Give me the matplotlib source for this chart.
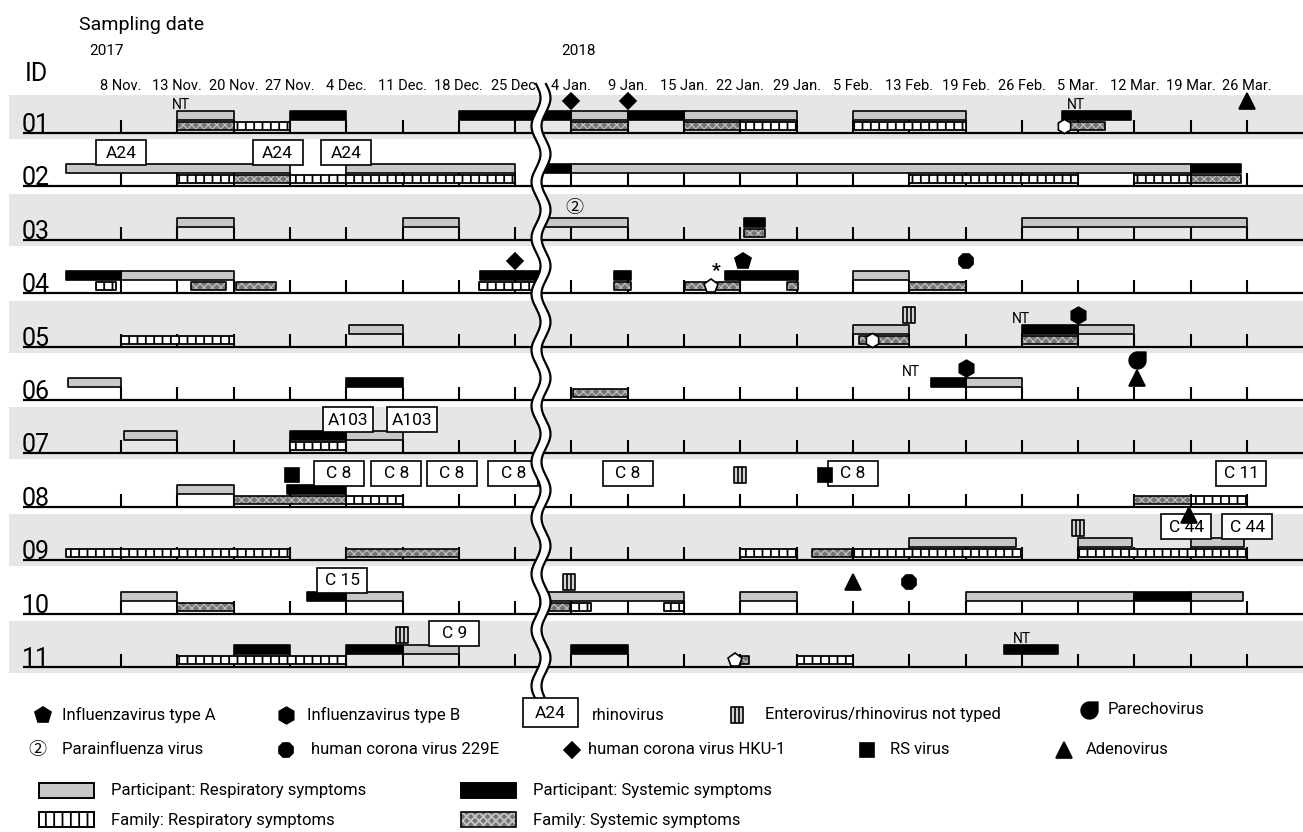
import numpy as np
import matplotlib
matplotlib.use("Agg")
import matplotlib.pyplot as plt
from matplotlib.patches import Rectangle
from matplotlib.path import Path

plt.rcParams['font.family'] = ['Roboto', 'Noto Sans CJK JP', 'DejaVu Sans']
plt.rcParams['hatch.linewidth'] = 1.3

# ==============================================================================
# DATA  (x = sampling-date index: 0 = 8 Nov. 2017 ... 20 = 26 Mar. 2018)
# ==============================================================================

sample_dates = ["8 Nov.", "13 Nov.", "20 Nov.", "27 Nov.", "4 Dec.", "11 Dec.", "18 Dec.",
                "25 Dec.", "4 Jan.", "9 Jan.", "15 Jan.", "22 Jan.", "29 Jan.", "5 Feb.",
                "13 Feb.", "19 Feb.", "26 Feb.", "5 Mar.", "12 Mar.", "19 Mar.", "26 Mar."]
ids = ["01", "02", "03", "04", "05", "06", "07", "08", "09", "10", "11"]

# symptom periods: (row, start, end)
part_resp = [
    (1, 1, 2), (1, 8, 9), (1, 10, 12), (1, 13, 15),
    (2, -0.98, 3), (2, 4, 7), (2, 8, 19),
    (3, 1, 2), (3, 5, 6), (3, 7.45, 9), (3, 16, 20),
    (4, 0, 2), (4, 13, 14),
    (5, 4.05, 5), (5, 13, 14), (5, 17, 18),
    (6, -0.95, 0), (6, 15, 16),
    (7, 0.05, 1), (7, 4, 5),
    (8, 1, 2),
    (9, 14, 15.9), (9, 17, 17.95), (9, 19, 19.95),
    (10, 0, 1), (10, 4, 5), (10, 7.45, 10), (10, 11, 12), (10, 15, 18), (10, 19, 19.93),
    (11, 5, 6),
]
part_sys = [
    (1, 3, 4), (1, 6, 8), (1, 9, 10), (1, 16.71, 17.94),
    (2, 7.45, 8), (2, 19, 19.9),
    (3, 11.07, 11.44),
    (4, -0.98, 0), (4, 6.38, 7.45), (4, 8.76, 9.05), (4, 10.73, 12.02),
    (5, 16, 17),
    (6, 4, 5), (6, 14.39, 15),
    (7, 3, 4),
    (8, 2.95, 4),
    (10, 3.31, 4), (10, 18, 19),
    (11, 2, 3), (11, 4, 5), (11, 8, 9), (11, 15.68, 16.64),
]
fam_resp = [
    (1, 2, 3), (1, 11, 12), (1, 13, 15),
    (2, 1, 2), (2, 3, 7), (2, 14, 17), (2, 18, 19),
    (4, -0.44, -0.09), (4, 6.36, 7.45),
    (5, 0, 2),
    (7, 3, 4),
    (8, 4, 5), (8, 19, 20),
    (9, -0.98, 3), (9, 11, 12), (9, 13, 16), (9, 17, 20),
    (10, 8, 8.35), (10, 9.65, 10),
    (11, 1, 4), (11, 12, 13),
]
fam_sys = [
    (1, 1, 2), (1, 8, 9), (1, 10, 11), (1, 16.71, 17.48),
    (2, 2, 3), (2, 19, 19.9),
    (3, 11.07, 11.43),
    (4, 1.24, 1.86), (4, 2.05, 2.75), (4, 8.76, 9.05), (4, 10.02, 11), (4, 11.83, 12.02), (4, 14, 15),
    (5, 13.1, 14), (5, 16, 17),
    (6, 8.03, 9),
    (8, 2, 4), (8, 18, 19),
    (9, 4, 6), (9, 12.27, 12.99),
    (10, 1, 2), (10, 7.45, 7.97),
    (11, 10.9, 11.16),
]

# virus detections: (row, date, virus, found in family member)
viruses = [
    (1, 8.0, 'hku', False), (1, 9.0, 'hku', False), (1, 20.0, 'adeno', False), (1, 16.75, 'fluB', True),
    (3, 8.05, 'para', False),
    (4, 7.0, 'hku', False), (4, 11.05, 'fluA', False), (4, 15.0, '229e', False), (4, 10.48, 'fluA', True),
    (5, 14.0, 'entero', False), (5, 17.0, 'fluB', False), (5, 13.34, 'fluB', True),
    (6, 15.0, 'fluB', False), (6, 18.05, 'parecho', False), (6, 18.05, 'adeno', False),
    (8, 3.03, 'rs', False), (8, 11.0, 'entero', False), (8, 12.5, 'rs', False),
    (9, 17.0, 'entero', False), (9, 18.97, 'adeno', False),
    (10, 7.96, 'entero', False), (10, 13.0, 'adeno', False), (10, 14.0, '229e', False),
    (11, 4.99, 'entero', False), (11, 10.9, 'fluA', True),
]

# rhinovirus types: (row, date, type)
rv_types = [
    (2, 0.0, 'A24'), (2, 2.78, 'A24'), (2, 4.0, 'A24'),
    (7, 4.04, 'A103'), (7, 5.17, 'A103'),
    (8, 3.87, 'C 8'), (8, 4.89, 'C 8'), (8, 5.88, 'C 8'), (8, 6.97, 'C 8'), (8, 9.0, 'C 8'),
    (8, 13.0, 'C 8'), (8, 19.9, 'C 11'),
    (9, 18.92, 'C 44'), (9, 20.0, 'C 44'),
    (10, 3.93, 'C 15'),
    (11, 5.92, 'C 9'),
]

nt_marks = [(1, 1.06), (1, 16.96), (5, 15.99), (6, 14.03), (11, 16.0)]
star_marks = [(4, 10.57)]

legend_viruses = [('fluA', 'Influenzavirus type A'), ('fluB', 'Influenzavirus type B'),
                  ('rhino', 'rhinovirus'), ('entero', 'Enterovirus/rhinovirus not typed'),
                  ('parecho', 'Parechovirus'), ('para', 'Parainfluenza virus'),
                  ('229e', 'human corona virus 229E'), ('hku', 'human corona virus HKU-1'),
                  ('rs', 'RS virus'), ('adeno', 'Adenovirus')]
legend_symptoms = ['Participant: Respiratory symptoms', 'Participant: Systemic symptoms',
                   'Family: Respiratory symptoms', 'Family: Systemic symptoms']

# ==============================================================================
# LAYOUT
# ==============================================================================

W, H = 1303, 832
X0, DX = 121.0, 56.3     # pixel of first sampling date, pixels per date step
Y0, DY = 133.0, 53.4     # baseline of row 01, row pitch
FS_FACE, FS_HATCH = '#767676', '#c4c4c4'


def px(p):
    return (np.asarray(p) - X0) / DX


def base(r):
    return Y0 + DY * (r - 1)


fig = plt.figure(figsize=(W / 100, H / 100), dpi=100)
ax = fig.add_axes([0, 0, 1, 1])
ax.set_xlim(px(0), px(W))
ax.set_ylim(H, 0)
ax.axis('off')

# custom markers
th = np.linspace(np.pi / 2, 2 * np.pi, 30)
pv = np.column_stack([np.cos(th), np.sin(th)]).tolist() + [[1, 1], [0, 1]]
parecho_path = Path(pv + [[0, 1]], [Path.MOVETO] + [Path.LINETO] * (len(pv) - 1) + [Path.CLOSEPOLY])
entero_path = Path([[-0.8, -1], [0.8, -1], [0.8, 1], [-0.8, 1], [-0.8, -1],
                    [-0.27, -1], [-0.27, 1], [0.27, -1], [0.27, 1]],
                   [Path.MOVETO, Path.LINETO, Path.LINETO, Path.LINETO, Path.CLOSEPOLY,
                    Path.MOVETO, Path.LINETO, Path.MOVETO, Path.LINETO])

marker_style = {
    'fluA': dict(marker='p', ms=12),
    'fluB': dict(marker='h', ms=12),
    '229e': dict(marker='8', ms=11),
    'hku': dict(marker='D', ms=8),
    'rs': dict(marker='s', ms=10),
    'adeno': dict(marker='^', ms=12),
    'parecho': dict(marker=parecho_path, ms=12),
    'entero': dict(marker=entero_path, ms=11, mfc='#d2d2d2'),
}


def draw_marker(x, y, v, open_=False, z=7):
    if v == 'para':
        ax.text(x, y, '\u2461', ha='center', va='center', fontsize=13, zorder=z)
        return
    st = dict(marker_style[v])
    mfc = st.pop('mfc', 'black')
    if open_:
        mfc = 'white'
        st['ms'] = st['ms'] * 0.85
    ax.plot([x], [y], color='black', mfc=mfc, mec='black', mew=1.2, ls='none', zorder=z, **st)


# background bands
for r in range(1, 12, 2):
    top = max(base(r) - 46, 95)
    ax.add_patch(Rectangle((px(9), top), px(W) - px(9), base(r) + 6 - top,
                           fc='#e6e6e6', ec='none', zorder=0))

# baselines, ticks, row ids
n = len(sample_dates)
for r in range(1, 12):
    b = base(r)
    ax.plot([px(23), px(W)], [b, b], color='black', lw=1.6, zorder=2, solid_capstyle='butt')
    ax.vlines(np.arange(n), b - 13, b, color='black', lw=1.5, zorder=2)
    ax.text(px(22), b - 1, ids[r - 1], fontsize=18, ha='left', va='baseline', zorder=3)


def draw_bars(items, top, h, **kw):
    out = []
    for r in range(1, 12):
        spans = [(s, e - s) for rr, s, e in items if rr == r]
        if spans:
            out.append(ax.broken_barh(spans, (base(r) - top, h), **kw))
    return out


draw_bars(part_resp, 22, 9, facecolor='#c8c8c8', edgecolor='black', linewidth=1.2, zorder=4)
draw_bars(part_sys, 22, 9, facecolor='black', edgecolor='black', linewidth=1.2, zorder=4)
draw_bars(fam_resp, 11, 8, facecolor='white', edgecolor='black', linewidth=1.3, hatch='||', zorder=4)
for c in draw_bars(fam_sys, 11, 8, facecolor=FS_FACE, edgecolor=FS_HATCH, linewidth=0,
                   hatch='xxxx', zorder=4):
    if hasattr(c, 'set_hatch_linewidth'):
        c.set_hatch_linewidth(0.8)
draw_bars(fam_sys, 11, 8, facecolor='none', edgecolor='black', linewidth=1.2, zorder=4.5)

# virus markers
bw = 50 / DX
for r, x, v, fam in viruses:
    b = base(r)
    same = [vv for rr, xx, vv, ff in viruses if rr == r and xx == x and not ff]
    in_box = any(rr == r and abs(xt - x) < bw / 2 for rr, xt, _ in rv_types)
    if fam:
        y = b - 7
    elif len(same) > 1:
        y = b - 40 + 18 * same.index(v)
    elif in_box:
        y = b - 45
    else:
        y = b - 32
    draw_marker(x, y, v, open_=fam)

# rhinovirus type boxes
for r, x, lab in rv_types:
    b = base(r)
    ax.add_patch(Rectangle((x - bw / 2, b - 46), bw, 25, fc='white', ec='black', lw=1.2, zorder=6))
    ax.text(x, b - 33, lab, ha='center', va='center', fontsize=12.5, zorder=6.5)

for r, x in nt_marks:
    ax.text(x, base(r) - 21, 'NT', ha='center', va='bottom', fontsize=10, zorder=7)
for r, x in star_marks:
    ax.text(x, base(r) - 22, '*', ha='center', va='center', fontsize=14, fontweight='bold', zorder=7)

# break mark between the years
ys = np.linspace(84, 698, 600)
xc = 541 + 4.5 * np.sin(2 * np.pi * (ys - 84) / 56)
ax.fill_betweenx(ys, px(xc - 5), px(xc + 5), color='white', lw=0, zorder=8)
ax.plot(px(xc - 5), ys, color='black', lw=1.6, zorder=9)
ax.plot(px(xc + 5), ys, color='black', lw=1.6, zorder=9)

# header
ax.text(px(79), 25, 'Sampling date', fontsize=14, va='center')
ax.text(px(106), 51, '2017', fontsize=11, ha='center', va='center')
ax.text(px(578), 51, '2018', fontsize=11, ha='center', va='center')
ax.text(px(25), 74, 'ID', fontsize=18, va='center')
for i, d in enumerate(sample_dates):
    ax.text(i, 86, d, ha='center', va='center', fontsize=10.5)

# legend: viruses
mark_x = [43, 286, 550, 737, 1089, 37, 286, 572, 867, 1064]
text_x = [62, 307, 592, 765, 1108, 62, 311, 588, 890, 1086]
leg_y = [715, 715, 715, 715, 710, 750, 750, 750, 750, 750]
for (v, lab), mx, tx, y in zip(legend_viruses, mark_x, text_x, leg_y):
    if v == 'rhino':
        ax.add_patch(Rectangle((px(523), 698), 55 / DX, 29, fc='white', ec='black', lw=1.2, zorder=10))
        ax.text(px(mx), y - 1, 'A24', ha='center', va='center', fontsize=12.5, zorder=11)
    else:
        draw_marker(px(mx), y, v, z=10)
    ax.text(px(tx), y, lab, ha='left', va='center', fontsize=12, zorder=10)

# legend: symptoms
sw_x = [39, 461, 39, 461]
sw_y = [783, 783, 812, 812]
sw_style = [dict(fc='#c8c8c8', ec='black', lw=1.2),
            dict(fc='black', ec='black', lw=1.2),
            dict(fc='white', ec='black', lw=1.3, hatch='||'),
            dict(fc=FS_FACE, ec=FS_HATCH, lw=0, hatch='xxxx')]
for lab, sx, sy, st in zip(legend_symptoms, sw_x, sw_y, sw_style):
    ax.add_patch(Rectangle((px(sx), sy), 55 / DX, 15, zorder=10, **st))
    ax.add_patch(Rectangle((px(sx), sy), 55 / DX, 15, fc='none', ec='black', lw=1.2, zorder=10))
    ax.text(px(sx + 72), sy + 8, lab, ha='left', va='center', fontsize=12, zorder=10)

fig.savefig('out.png', dpi=100)
